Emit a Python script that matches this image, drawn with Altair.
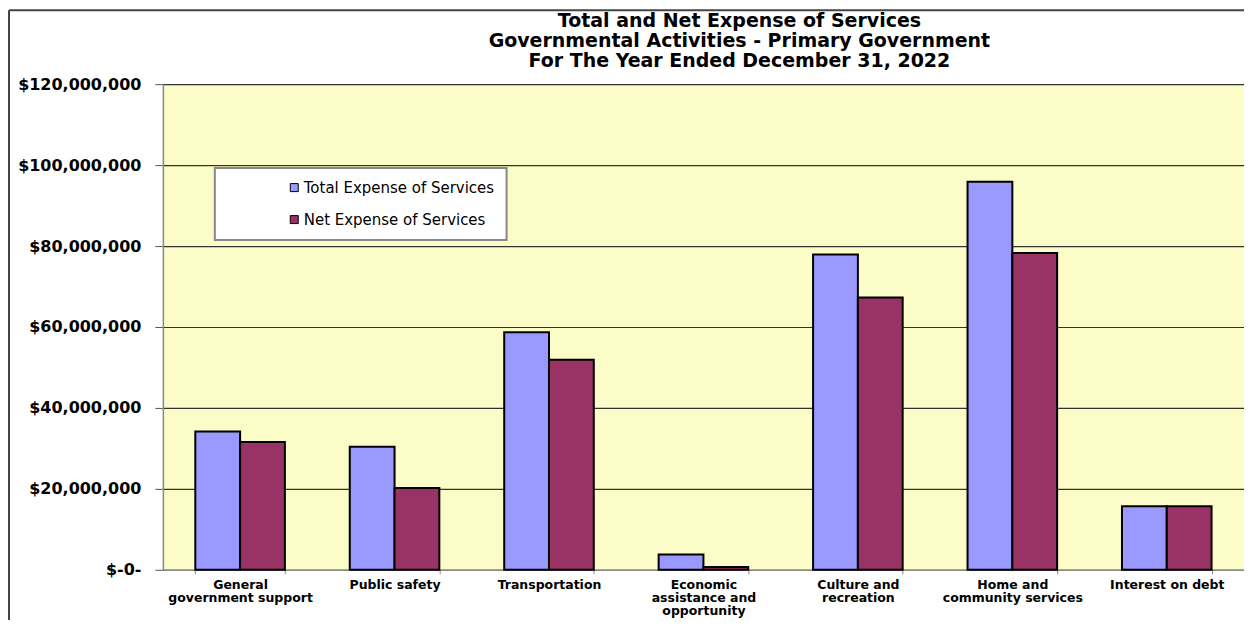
import altair as alt
import pandas as pd

categories = [
    "General\ngovernment support",
    "Public safety",
    "Transportation",
    "Economic\nassistance and\nopportunity",
    "Culture and\nrecreation",
    "Home and\ncommunity services",
    "Interest on debt",
]
series_names = ["Total Expense of Services", "Net Expense of Services"]
total_expense = [34.2e6, 30.4e6, 58.7e6, 3.8e6, 77.9e6, 95.9e6, 15.7e6]
net_expense = [31.6e6, 20.2e6, 51.9e6, 0.7e6, 67.3e6, 78.3e6, 15.7e6]
y_ticks = [0, 20e6, 40e6, 60e6, 80e6, 100e6, 120e6]
title_lines = [
    "Total and Net Expense of Services",
    "Governmental Activities - Primary Government",
    "For The Year Ended December 31, 2022",
]

rows = []
for i, c in enumerate(categories):
    rows.append({"category": c, "series": series_names[0], "value": total_expense[i]})
    rows.append({"category": c, "series": series_names[1], "value": net_expense[i]})
df = pd.DataFrame(rows)

W, H = 1082, 486

bars = alt.Chart(df).mark_bar(stroke="black", strokeWidth=2).encode(
    x=alt.X(
        "category:N",
        sort=categories,
        title=None,
        scale=alt.Scale(paddingInner=0.42, paddingOuter=0.21),
        axis=alt.Axis(
            labelAngle=0,
            labelExpr="split(datum.label, '\\n')",
            labelFont="DejaVu Sans",
            labelFontWeight="bold",
            labelFontSize=12.5,
            labelColor="black",
            labelLineHeight=13,
            labelPadding=5,
            labelLimit=300,
            tickBand="extent",
            tickSize=4,
            tickColor="#888888",
            domainColor="#888888",
            domainWidth=1.5,
            grid=False,
        ),
    ),
    xOffset=alt.XOffset("series:N", sort=series_names, scale=alt.Scale(paddingInner=0, paddingOuter=0)),
    y=alt.Y(
        "value:Q",
        title=None,
        scale=alt.Scale(domain=[0, 120e6], nice=False),
        axis=alt.Axis(
            values=y_ticks,
            labelExpr="datum.value == 0 ? '$-0-' : '$' + format(datum.value, ',')",
            labelFont="DejaVu Sans",
            labelFontWeight="bold",
            labelFontSize=16,
            labelColor="black",
            labelPadding=14,
            tickSize=8,
            tickColor="#555555",
            domainColor="#888888",
            domainWidth=1.5,
            grid=True,
            gridColor="#333333",
            gridWidth=1.2,
            gridOpacity=1,
        ),
    ),
    color=alt.Color(
        "series:N",
        sort=series_names,
        scale=alt.Scale(domain=series_names, range=["#9999FF", "#993366"]),
        legend=alt.Legend(
            title=None,
            orient="none",
            legendX=52,
            legendY=84,
            direction="vertical",
            fillColor="white",
            strokeColor="#888888",
            padding=12,
            symbolOffset=60,
            symbolType="square",
            symbolSize=64,
            symbolStrokeColor="black",
            symbolStrokeWidth=1,
            labelFont="DejaVu Sans",
            labelFontSize=15,
            labelColor="black",
            labelOffset=2,
            rowPadding=16,
            labelLimit=400,
        ),
    ),
)

frame_df = pd.DataFrame({"a": [0]})
top_line = alt.Chart(frame_df).mark_rule(color="#444444", strokeWidth=2).encode(
    x=alt.value(-154), x2=alt.value(W + 4), y=alt.value(-74)
)
left_line = alt.Chart(frame_df).mark_rule(color="#444444", strokeWidth=2).encode(
    x=alt.value(-154), y=alt.value(-74), y2=alt.value(H + 70)
)

chart = (
    alt.layer(top_line, left_line, bars)
    .properties(
        width=W,
        height=H,
        autosize=alt.AutoSizeParams(type="none"),
        padding={"left": 155, "top": 76, "right": 0, "bottom": 50},
        title=alt.TitleParams(
            text=title_lines,
            font="DejaVu Sans",
            fontWeight="bold",
            fontSize=19,
            lineHeight=20,
            color="black",
            anchor="middle",
            frame="group",
            dx=36,
            dy=74,
            offset=12,
        ),
    )
    .configure_view(fill="#FCFCC8", stroke=None)
    .configure_legend(strokeWidth=2)
)

chart.save("out.html", embed_options={"renderer": "svg", "actions": False})
